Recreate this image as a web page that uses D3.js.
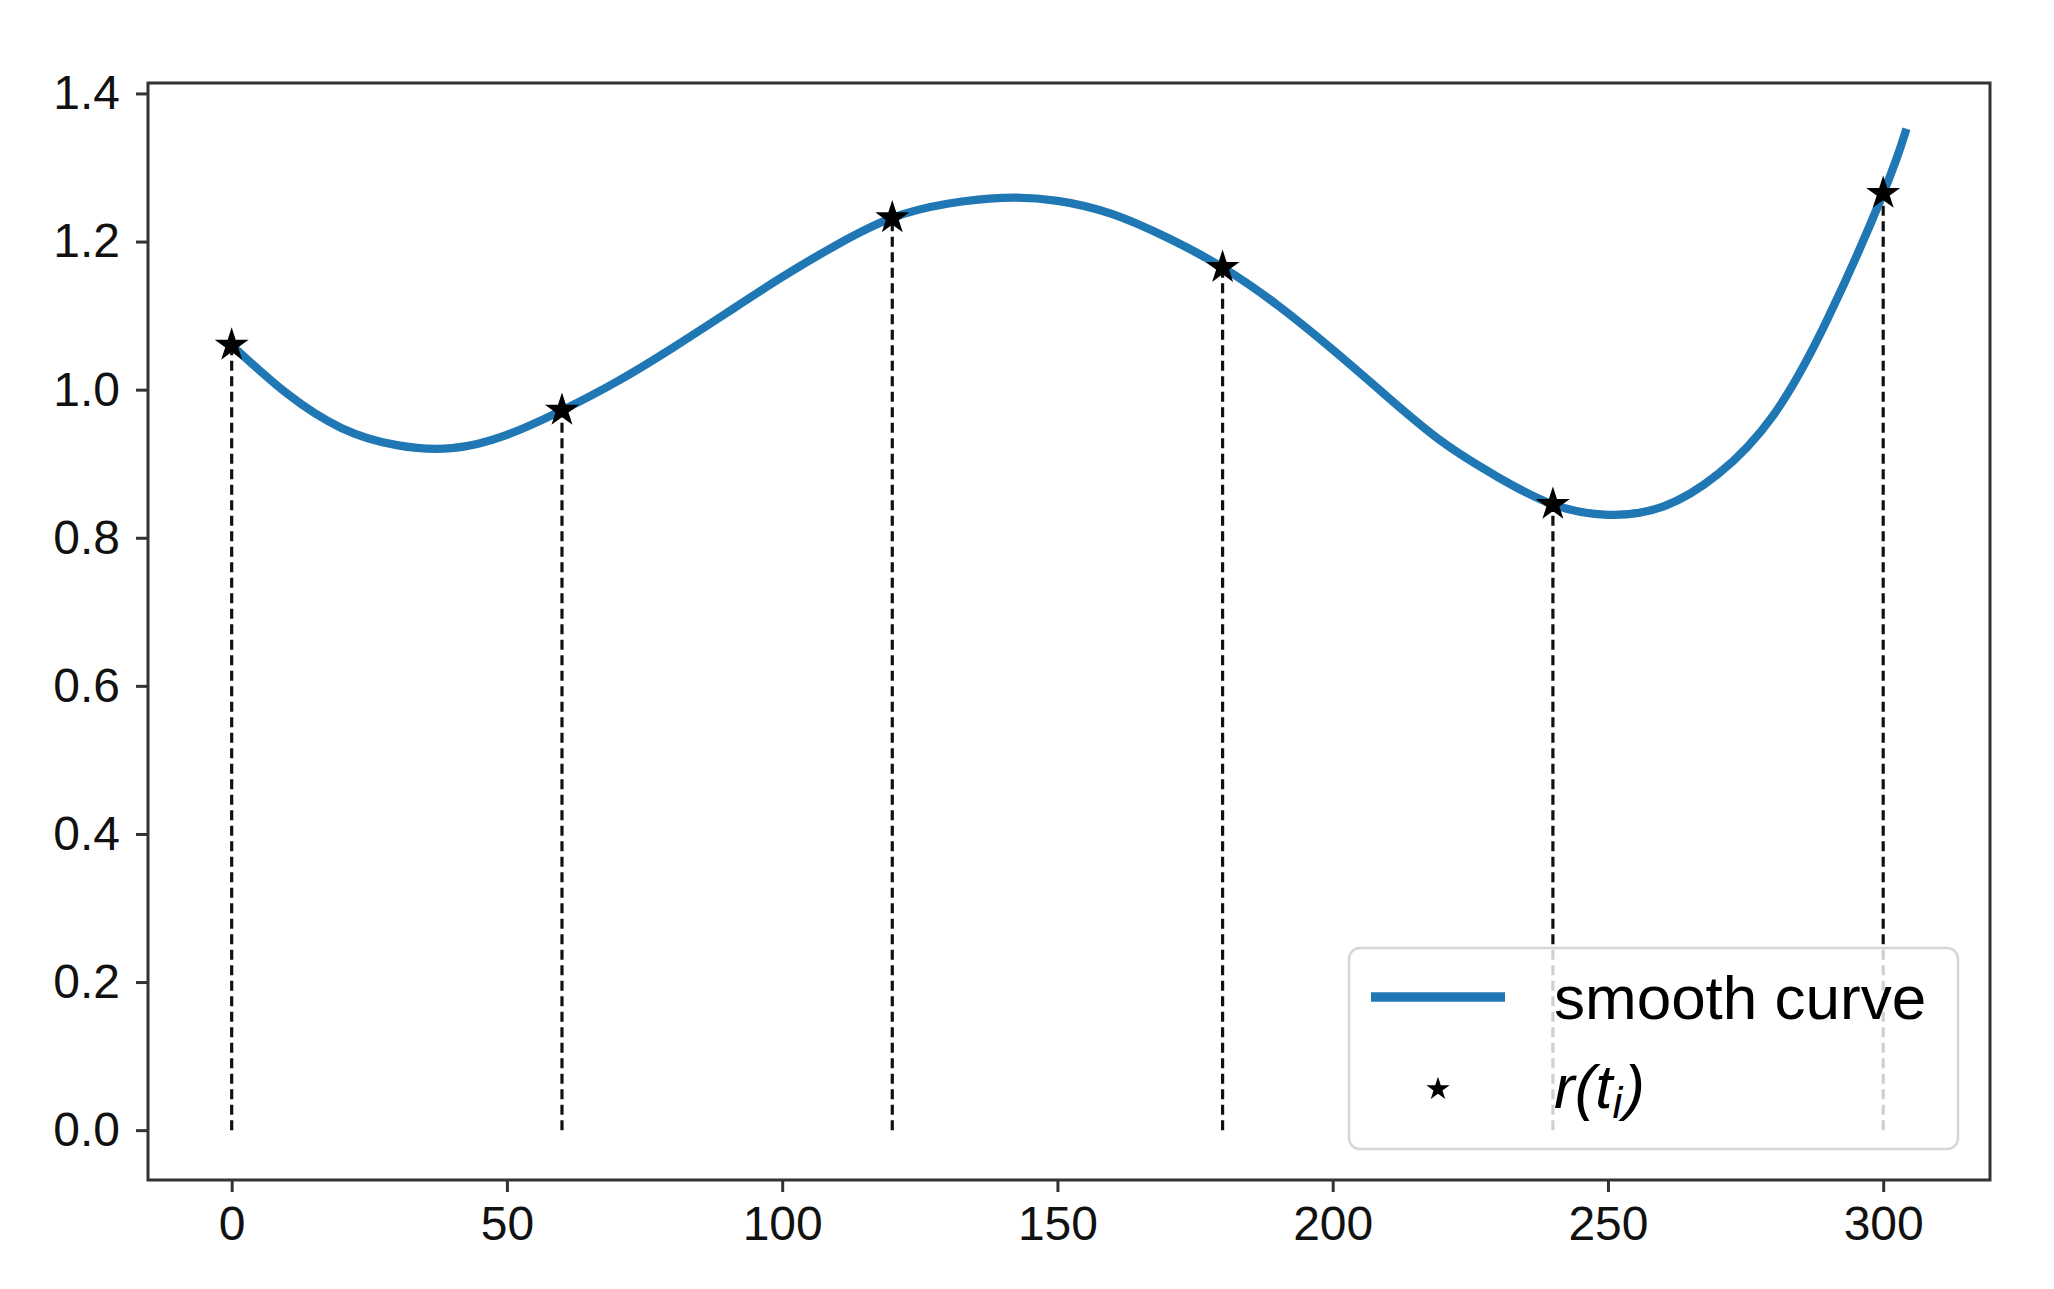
<!DOCTYPE html>
<html>
<head>
<meta charset="utf-8">
<script src="https://cdn.jsdelivr.net/npm/d3@7"></script>
<style>
  html, body { margin: 0; padding: 0; background: #fff; }
  svg { display: block; }
  text { font-family: "Liberation Sans", Arial, Helvetica, sans-serif; }
</style>
</head>
<body>
<svg id="chart" width="2054" height="1289"></svg>
<script>
// ---- data ----
const curveT = [0, 10, 20, 30, 40, 50, 60, 70, 80, 90, 100, 110, 120, 130, 140, 150, 160, 170, 180, 190, 200, 210, 220, 230, 240, 250, 260, 270, 280, 290, 300, 304];
const curveV = [1.060, 0.995, 0.948, 0.925, 0.921, 0.939, 0.972, 1.011, 1.056, 1.104, 1.152, 1.196, 1.232, 1.251, 1.259, 1.255, 1.237, 1.205, 1.165, 1.114, 1.054, 0.990, 0.929, 0.882, 0.845, 0.831, 0.842, 0.886, 0.965, 1.097, 1.265, 1.347];
const knotT = [0, 60, 120, 180, 240, 300];
const knotV = [1.060, 0.972, 1.232, 1.165, 0.845, 1.265];
const xTicks = [0, 50, 100, 150, 200, 250, 300];
const yTicks = [0.0, 0.2, 0.4, 0.6, 0.8, 1.0, 1.2, 1.4];
const legendLabels = ["smooth curve", "r(t_i)"];

// ---- layout ----
const svg = d3.select("#chart");
const L = 148, R = 1990, T = 83, B = 1180;
const x = d3.scaleLinear().domain([-15.2, 319.4]).range([L, R]);
const y = d3.scaleLinear().domain([-0.0673, 1.4141]).range([B, T]);

const blue = "#1f77b4";
const curveData = curveT.map((t, i) => [t, curveV[i]]);
const knots = knotT.map((t, i) => [t, knotV[i]]);

// dashed vertical lines
svg.append("g").selectAll("line").data(knots).join("line")
  .attr("x1", d => x(d[0])).attr("x2", d => x(d[0]))
  .attr("y1", d => y(0)).attr("y2", d => y(d[1]))
  .attr("stroke", "#111").attr("stroke-width", 3.2)
  .attr("stroke-dasharray", "10,5.5");

// smooth curve
const line = d3.line().x(d => x(d[0])).y(d => y(d[1])).curve(d3.curveNatural);
svg.append("path").datum(curveData)
  .attr("d", line)
  .attr("fill", "none").attr("stroke", blue).attr("stroke-width", 8.3)
  .attr("stroke-linecap", "square");

// stars
const star = d3.symbol().type(d3.symbolStar).size(240);
svg.append("g").selectAll("path").data(knots).join("path")
  .attr("transform", d => `translate(${x(d[0])},${y(d[1])})`)
  .attr("d", star).attr("fill", "#000").attr("stroke", "#000").attr("stroke-width", 2);

// axes
const fontSize = 48;
const xAxis = d3.axisBottom(x).tickValues(xTicks).tickSize(12).tickPadding(13).tickFormat(d3.format("d"));
const yAxis = d3.axisLeft(y).tickValues(yTicks).tickSize(12).tickPadding(16).tickFormat(d3.format(".1f"));

const gx = svg.append("g").attr("transform", `translate(0,${B})`).call(xAxis);
const gy = svg.append("g").attr("transform", `translate(${L},0)`).call(yAxis);
[gx, gy].forEach(g => {
  g.select(".domain").remove();
  g.selectAll(".tick line").attr("stroke", "#333").attr("stroke-width", 3);
  g.selectAll(".tick text").attr("fill", "#111").style("font-size", fontSize + "px")
    .style("font-family", "'Liberation Sans', Arial, sans-serif");
});
gx.selectAll(".tick text").attr("dy", "0.72em");

// frame
svg.append("rect").attr("x", L).attr("y", T).attr("width", R - L).attr("height", B - T)
  .attr("fill", "none").attr("stroke", "#333").attr("stroke-width", 3);

// legend
const lg = svg.append("g");
lg.append("rect").attr("x", 1349).attr("y", 948).attr("width", 609).attr("height", 201)
  .attr("rx", 11).attr("ry", 11)
  .attr("fill", "#fff").attr("fill-opacity", 0.8)
  .attr("stroke", "#d6d6d6").attr("stroke-width", 2.5);
lg.append("line").attr("x1", 1371).attr("x2", 1505).attr("y1", 997).attr("y2", 997)
  .attr("stroke", blue).attr("stroke-width", 9.5);
lg.append("text").attr("x", 1554).attr("y", 1019).attr("fill", "#000")
  .style("font-size", "62px").text(legendLabels[0]);
lg.append("path").attr("transform", "translate(1438,1089)")
  .attr("d", d3.symbol().type(d3.symbolStar).size(170)).attr("fill", "#000");
const t2 = lg.append("text").attr("x", 1554).attr("y", 1108).attr("fill", "#000")
  .style("font-size", "62px").style("font-style", "italic");
const parts = legendLabels[1].split("_");
t2.append("tspan").text(parts[0]);
t2.append("tspan").attr("dy", 10).style("font-size", "44px").text(parts[1].charAt(0));
t2.append("tspan").attr("dy", -10).attr("dx", 2).text(parts[1].slice(1));
</script>
</body>
</html>
